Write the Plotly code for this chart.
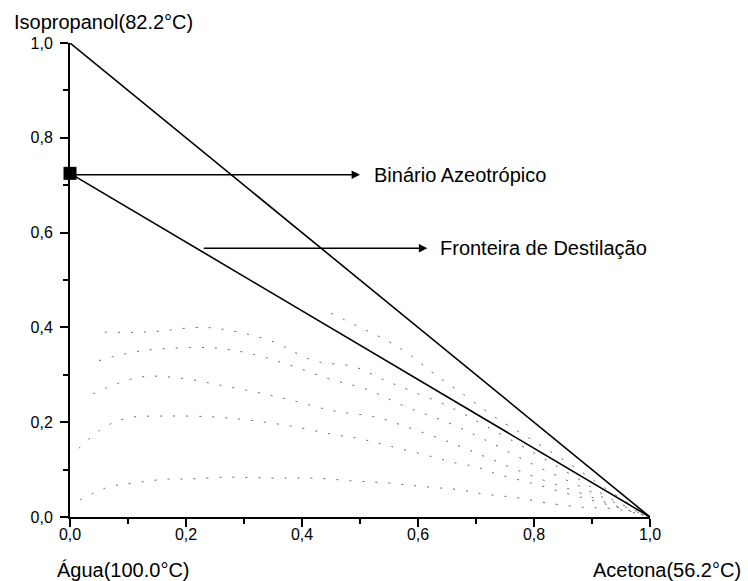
import plotly.graph_objects as go

# Binary edge Isopropanol-Acetona and the distillation boundary from the azeotrope
edge_x = [0.0, 1.0]
edge_y = [1.0, 0.0]
boundary_x = [0.0, 1.0]
boundary_y = [0.725, 0.0]
azeotrope_x = [0.0]
azeotrope_y = [0.725]

# Residue curves (acetone fraction, isopropanol fraction)
curves = [
    ([0.017, 0.066, 0.11, 0.17, 0.20, 0.27, 0.35, 0.42, 0.49, 0.545, 0.595, 0.64,
      0.675, 0.70, 0.73, 0.77, 0.82, 0.88, 0.94, 1.0],
     [0.036, 0.063, 0.072, 0.080, 0.080, 0.084, 0.082, 0.082, 0.076, 0.072, 0.066,
      0.061, 0.057, 0.051, 0.046, 0.041, 0.030, 0.021, 0.017, 0.0]),
    ([0.015, 0.06, 0.10, 0.17, 0.25, 0.31, 0.38, 0.45, 0.50, 0.55, 0.625, 0.665,
      0.70, 0.73, 0.80, 0.87, 0.93, 1.0],
     [0.145, 0.19, 0.209, 0.213, 0.211, 0.204, 0.192, 0.175, 0.165, 0.150, 0.127,
      0.114, 0.106, 0.093, 0.070, 0.045, 0.025, 0.0]),
    ([0.04, 0.12, 0.19, 0.26, 0.33, 0.38, 0.45, 0.53, 0.58, 0.65, 0.72, 0.80, 0.87,
      0.93, 1.0],
     [0.26, 0.295, 0.293, 0.278, 0.261, 0.247, 0.225, 0.21, 0.19, 0.16, 0.125, 0.085,
      0.055, 0.028, 0.0]),
    ([0.05, 0.12, 0.24, 0.31, 0.38, 0.45, 0.51, 0.58, 0.65, 0.72, 0.80, 0.87, 0.93, 1.0],
     [0.33, 0.35, 0.357, 0.345, 0.32, 0.29, 0.27, 0.232, 0.20, 0.16, 0.11, 0.07,
      0.035, 0.0]),
    ([0.06, 0.13, 0.23, 0.29, 0.35, 0.42, 0.49, 0.54, 0.59, 0.65, 0.72, 0.80, 0.87,
      0.93, 1.0],
     [0.39, 0.39, 0.40, 0.39, 0.37, 0.33, 0.317, 0.29, 0.265, 0.235, 0.19, 0.135,
      0.085, 0.04, 0.0]),
    ([0.45, 0.50, 0.55, 0.586, 0.63, 0.68, 0.73, 0.80, 0.87, 0.93, 1.0],
     [0.43, 0.40, 0.37, 0.342, 0.30, 0.257, 0.213, 0.16, 0.105, 0.055, 0.0]),
]

tick_vals = [0.0, 0.2, 0.4, 0.6, 0.8, 1.0]

FONT = "Arial, Liberation Sans, sans-serif"

fig = go.Figure()

for cx, cy in curves:
    fig.add_trace(go.Scatter(
        x=cx, y=cy, mode="lines", line_shape="spline",
        line=dict(color="#555555", width=0.9, dash="2px,11px"),
        hoverinfo="skip", showlegend=False,
    ))

fig.add_trace(go.Scatter(x=edge_x, y=edge_y, mode="lines",
                         line=dict(color="black", width=1.6),
                         showlegend=False, cliponaxis=False))
fig.add_trace(go.Scatter(x=boundary_x, y=boundary_y, mode="lines",
                         line=dict(color="black", width=1.6),
                         showlegend=False, cliponaxis=False))
fig.add_trace(go.Scatter(x=azeotrope_x, y=azeotrope_y, mode="markers",
                         marker=dict(symbol="square", size=13, color="black"),
                         showlegend=False, cliponaxis=False))

# Callout arrows
arrows = [
    dict(x0=0.0, x1=0.50, y=0.722, tx=0.521, text="Binário Azeotrópico"),
    dict(x0=0.228, x1=0.616, y=0.567, tx=0.634, text="Fronteira de Destilação"),
]
for a in arrows:
    fig.add_annotation(x=a["x1"], y=a["y"], ax=a["x0"], ay=a["y"],
                       xref="x", yref="y", axref="x", ayref="y",
                       text="", showarrow=True, arrowhead=2, arrowsize=1.2,
                       arrowwidth=1.4, arrowcolor="black")
    fig.add_annotation(x=a["tx"], y=a["y"], xref="x", yref="y", text=a["text"],
                       showarrow=False, xanchor="left", yanchor="middle",
                       font=dict(family=FONT, size=20, color="black"))

# Vertex labels (pure components and boiling points)
vertex_labels = [
    dict(x=-0.100, y=1.044, text="Isopropanol(82.2°C)", anchor="left"),
    dict(x=-0.026, y=-0.112, text="Água(100.0°C)", anchor="left"),
    dict(x=1.160, y=-0.112, text="Acetona(56.2°C)", anchor="right"),
]
for v in vertex_labels:
    fig.add_annotation(x=v["x"], y=v["y"], xref="paper", yref="paper",
                       text=v["text"], showarrow=False,
                       xanchor=v["anchor"], yanchor="middle",
                       font=dict(family=FONT, size=20, color="black"))

axis_common = dict(
    range=[0, 1], tickvals=tick_vals, tickformat=".1f",
    showgrid=False, zeroline=False,
    showline=True, linecolor="black", linewidth=2,
    ticks="outside", ticklen=8, tickwidth=2, tickcolor="black",
    tickfont=dict(family=FONT, size=16, color="black"),
    minor=dict(dtick=0.1, ticks="outside", ticklen=5, tickwidth=1.5,
               tickcolor="black", showgrid=False),
)

fig.update_xaxes(**axis_common, ticklabelstandoff=-6)
fig.update_yaxes(**axis_common, ticklabelstandoff=4)

fig.update_layout(
    width=748, height=581,
    margin=dict(l=70, r=98, t=43, b=64),
    plot_bgcolor="white", paper_bgcolor="white",
    separators=",.",
    showlegend=False,
)

fig.write_html("out.html")
